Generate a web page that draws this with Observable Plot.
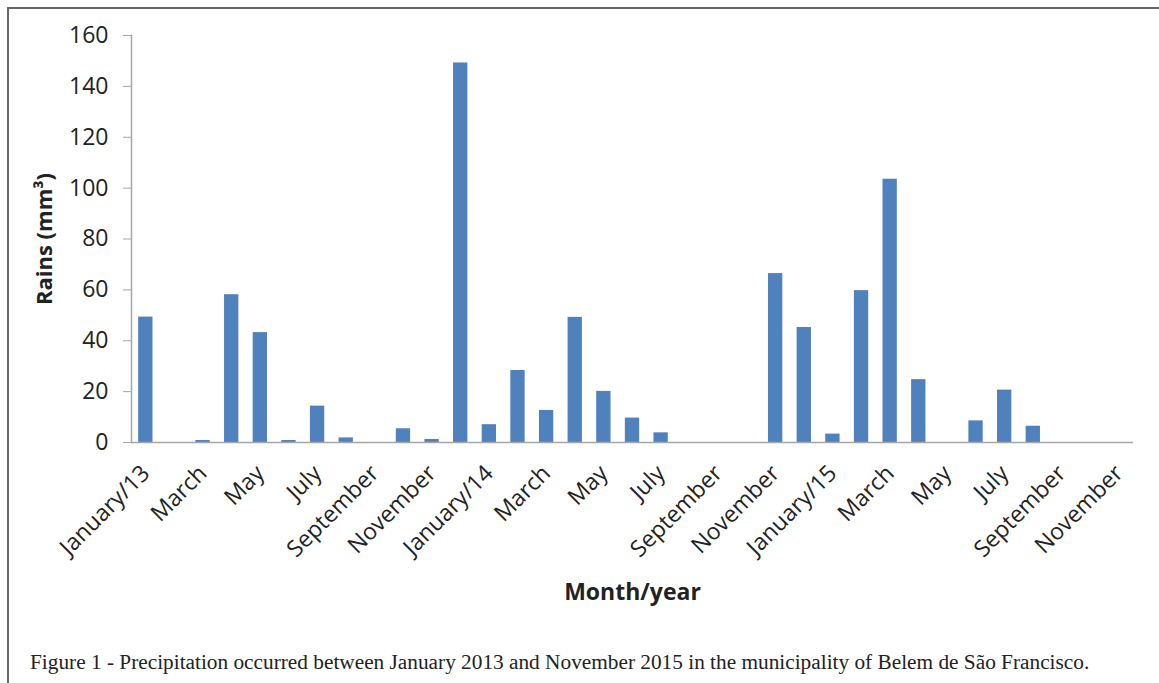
<!DOCTYPE html>
<html>
<head>
<meta charset="utf-8">
<script src="https://cdn.jsdelivr.net/npm/d3@7"></script>
<script src="https://cdn.jsdelivr.net/npm/@observablehq/plot@0.6"></script>
<style>
  html, body { margin: 0; padding: 0; background: #fff; }
  body { width: 1159px; height: 683px; position: relative; overflow: hidden; }
  #frame { position: absolute; left: 7px; top: 7px; width: 1152px; height: 676px;
           border-left: 2px solid #666; border-top: 2px solid #666; box-sizing: border-box; }
  #chart { position: absolute; left: 0; top: 0; }
  #caption { position: absolute; left: 30px; top: 650px; font-family: "Liberation Serif", "Times New Roman", serif;
             font-size: 21.3px; color: #222; white-space: nowrap; }
</style>
</head>
<body>
<div id="frame"></div>
<div id="chart"></div>
<div id="caption">Figure 1 - Precipitation occurred between January 2013 and November 2015 in the municipality of Belem de São Francisco.</div>
<script>
// Months Jan 2013 .. Nov 2015
const months = [
  "2013-01","2013-02","2013-03","2013-04","2013-05","2013-06","2013-07","2013-08","2013-09","2013-10","2013-11","2013-12",
  "2014-01","2014-02","2014-03","2014-04","2014-05","2014-06","2014-07","2014-08","2014-09","2014-10","2014-11","2014-12",
  "2015-01","2015-02","2015-03","2015-04","2015-05","2015-06","2015-07","2015-08","2015-09","2015-10","2015-11"
];
const rains = [
  49.3, 0, 0.8, 58.1, 43.2, 0.8, 14.3, 1.8, 0, 5.4, 1.2, 149.2,
  7.0, 28.3, 12.6, 49.2, 20.1, 9.6, 3.8, 0, 0, 0, 66.4, 45.2,
  3.3, 59.7, 103.5, 24.7, 0, 8.5, 20.6, 6.4, 0, 0, 0
];
const tickMonths = ["2013-01","2013-03","2013-05","2013-07","2013-09","2013-11",
  "2014-01","2014-03","2014-05","2014-07","2014-09","2014-11",
  "2015-01","2015-03","2015-05","2015-07","2015-09","2015-11"];
const tickLabels = ["January/13","March","May","July","September","November",
  "January/14","March","May","July","September","November",
  "January/15","March","May","July","September","November"];
const yTicks = [0, 20, 40, 60, 80, 100, 120, 140, 160];

const data = months.map((m, i) => ({month: m, value: rains[i]}));
const labelOf = new Map(tickMonths.map((m, i) => [m, tickLabels[i]]));

const chart = Plot.plot({
  width: 1159,
  height: 620,
  marginLeft: 131,
  marginRight: 26,
  marginTop: 35,
  marginBottom: 178,
  style: {fontFamily: "'Open Sans', sans-serif", fontSize: "21px", color: "#222", background: "transparent"},
  x: {domain: months, paddingInner: 0.5, paddingOuter: 0.25, round: false, label: null},
  y: {domain: [0, 160], label: null},
  marks: [
    Plot.barY(data, {x: "month", y: "value", fill: "#4f81bd"}),
    Plot.ruleY([0], {stroke: "#a6a6a6", strokeWidth: 1.5}),
    Plot.frame({anchor: "left", stroke: "#a6a6a6", strokeWidth: 1.5}),
    Plot.axisY({ticks: yTicks, tickSize: 8, tickPadding: 15, stroke: "#a6a6a6", fontSize: 23, label: null}),
    Plot.axisX({ticks: tickMonths, tickFormat: d => labelOf.get(d), tickSize: 0, tickRotate: -45, tickPadding: 27, fontSize: 23, label: null}),
    Plot.text(["Month/year"], {frameAnchor: "bottom", dy: 157, fontWeight: "bold", fontSize: 23}),
    Plot.text(["Rains (mm³)"], {frameAnchor: "left", textAnchor: "middle", dx: -87, rotate: -90, fontWeight: "bold", fontSize: 22})
  ]
});
document.getElementById("chart").appendChild(chart);
</script>
</body>
</html>
